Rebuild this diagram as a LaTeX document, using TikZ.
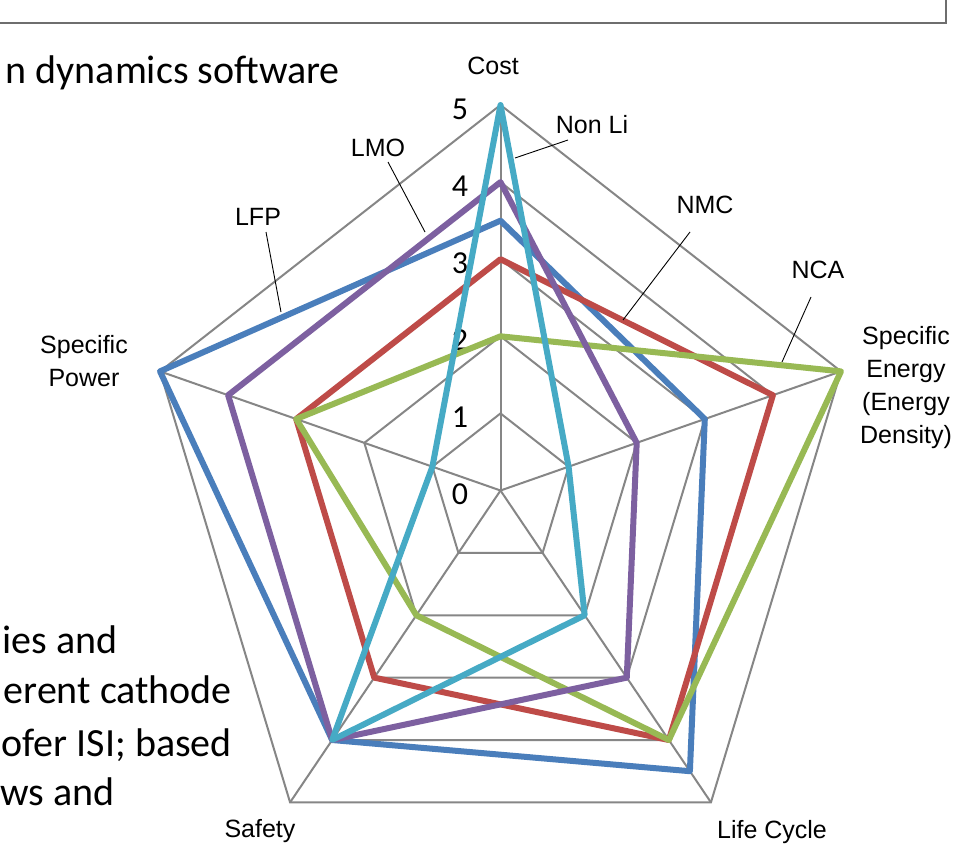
\documentclass[tikz,border=0pt]{standalone}
\usepackage{fontspec}
\setmainfont{Liberation Sans}
\newfontfamily\slidefont{Carlito}
\definecolor{serBlue}{HTML}{4A7EBB}
\definecolor{serRed}{HTML}{BE4B48}
\definecolor{serGreen}{HTML}{98B954}
\definecolor{serPurple}{HTML}{7D60A0}
\definecolor{serCyan}{HTML}{46AAC5}
\definecolor{gridGray}{HTML}{868686}
\definecolor{frameGray}{HTML}{6E6E6E}
\tikzset{
  gridline/.style={draw=gridGray, line width=2},
  serie/.style={line width=6, line join=round},
  lbl/.style={font=\fontsize{25}{33}\selectfont, inner sep=0pt, align=center},
  leader/.style={draw=black, line width=0.9},
  tick/.style={font=\slidefont\fontsize{32}{38}\selectfont, inner sep=0pt},
  slide/.style={font=\slidefont\fontsize{40}{48}\selectfont, inner sep=0pt, anchor=base east},
}
\newcommand\radarpts[6]{%
  \coordinate (#1-1) at ({500.5+71.6*#2*cos(90)},{490.5-77.1*#2*sin(90)});
  \coordinate (#1-2) at ({500.5+71.6*#3*cos(18)},{490.5-77.1*#3*sin(18)});
  \coordinate (#1-3) at ({500.5+71.6*#4*cos(-54)},{490.5-77.1*#4*sin(-54)});
  \coordinate (#1-4) at ({500.5+71.6*#5*cos(-126)},{490.5-77.1*#5*sin(-126)});
  \coordinate (#1-5) at ({500.5+71.6*#6*cos(162)},{490.5-77.1*#6*sin(162)});
}
\begin{document}
\begin{tikzpicture}[x=1pt,y=-1pt]
\useasboundingbox (0,0) rectangle (973,864);
\fill[white] (0,0) rectangle (973,864);

% slide frame
\draw[draw=frameGray, line width=1.5] (-10,-10) rectangle (946,23);

% slide text (cropped)
\node[slide] (s0) at (340,84) {n dynamics software};
\node[slide] (s1) at (118,653) {ies and};
\node[slide] (s2) at (232,703) {erent cathode};
\node[slide] (s3) at (232,756) {ofer ISI; based};
\node[slide, anchor=base west] (s4) at (0.5,805) {ws and};

% grid
\coordinate (ctr) at (500.5,490.5);
\radarpts{ga}{1}{1}{1}{1}{1}
\radarpts{gb}{2}{2}{2}{2}{2}
\radarpts{gc}{3}{3}{3}{3}{3}
\radarpts{gd}{4}{4}{4}{4}{4}
\radarpts{ge}{5}{5}{5}{5}{5}
\foreach \g in {ga,gb,gc,gd,ge}
  \draw[gridline] (\g-1) -- (\g-2) -- (\g-3) -- (\g-4) -- (\g-5) -- cycle;
\foreach \i in {1,...,5}
  \draw[gridline] (ctr) -- (ge-\i);

% scale numbers
\foreach \k in {0,...,5}
  \node[tick] (t\k) at (460,{494.5-77.1*\k}) {\k};

% series: Cost, Specific Energy, Life Cycle, Safety, Specific Power
\radarpts{lfp}{3.5}{3}{4.5}{4}{5}
\radarpts{nmc}{3}{4}{4}{3}{3}
\radarpts{nca}{2}{5}{4}{2}{3}
\radarpts{lmo}{4}{2}{3}{4}{4}
\radarpts{nli}{5}{1}{2}{4}{1}
\draw[serie, serBlue]   (lfp-1) -- (lfp-2) -- (lfp-3) -- (lfp-4) -- (lfp-5) -- cycle;
\draw[serie, serRed]    (nmc-1) -- (nmc-2) -- (nmc-3) -- (nmc-4) -- (nmc-5) -- cycle;
\draw[serie, serGreen]  (nca-1) -- (nca-2) -- (nca-3) -- (nca-4) -- (nca-5) -- cycle;
\draw[serie, serPurple] (lmo-1) -- (lmo-2) -- (lmo-3) -- (lmo-4) -- (lmo-5) -- cycle;
\draw[serie, serCyan]   (nli-1) -- (nli-2) -- (nli-3) -- (nli-4) -- (nli-5) -- cycle;

% axis labels
\node[lbl] (cost) at (493,66) {Cost};
\node[lbl] (se) at (906,388) {Specific\\Energy\\(Energy\\Density)};
\node[lbl] (life) at (772,832) {Life Cycle};
\node[lbl] (safety) at (260,831) {Safety};
\node[lbl] (sp) at (84,361) {Specific\\Power};

% series labels with leader lines
\node[lbl] (nonli) at (592,125) {Non Li};
\node[lbl] (lmo) at (378,148) {LMO};
\node[lbl] (lfp) at (258,217) {LFP};
\node[lbl] (nmc) at (705,205) {NMC};
\node[lbl] (nca) at (818,270) {NCA};
\coordinate (nonli-a) at (568,140); \coordinate (nonli-b) at (515,158);
\coordinate (lmo-a) at (388,162);   \coordinate (lmo-b) at (425,232);
\coordinate (lfp-a) at (266,232);   \coordinate (lfp-b) at (281,312);
\coordinate (nmc-a) at (690,232);   \coordinate (nmc-b) at (623,320);
\coordinate (nca-a) at (811,297);   \coordinate (nca-b) at (782,362);
\draw[leader] (nonli-a) -- (nonli-b);
\draw[leader] (lmo-a) -- (lmo-b);
\draw[leader] (lfp-a) -- (lfp-b);
\draw[leader] (nmc-a) -- (nmc-b);
\draw[leader] (nca-a) -- (nca-b);
\end{tikzpicture}
\end{document}
